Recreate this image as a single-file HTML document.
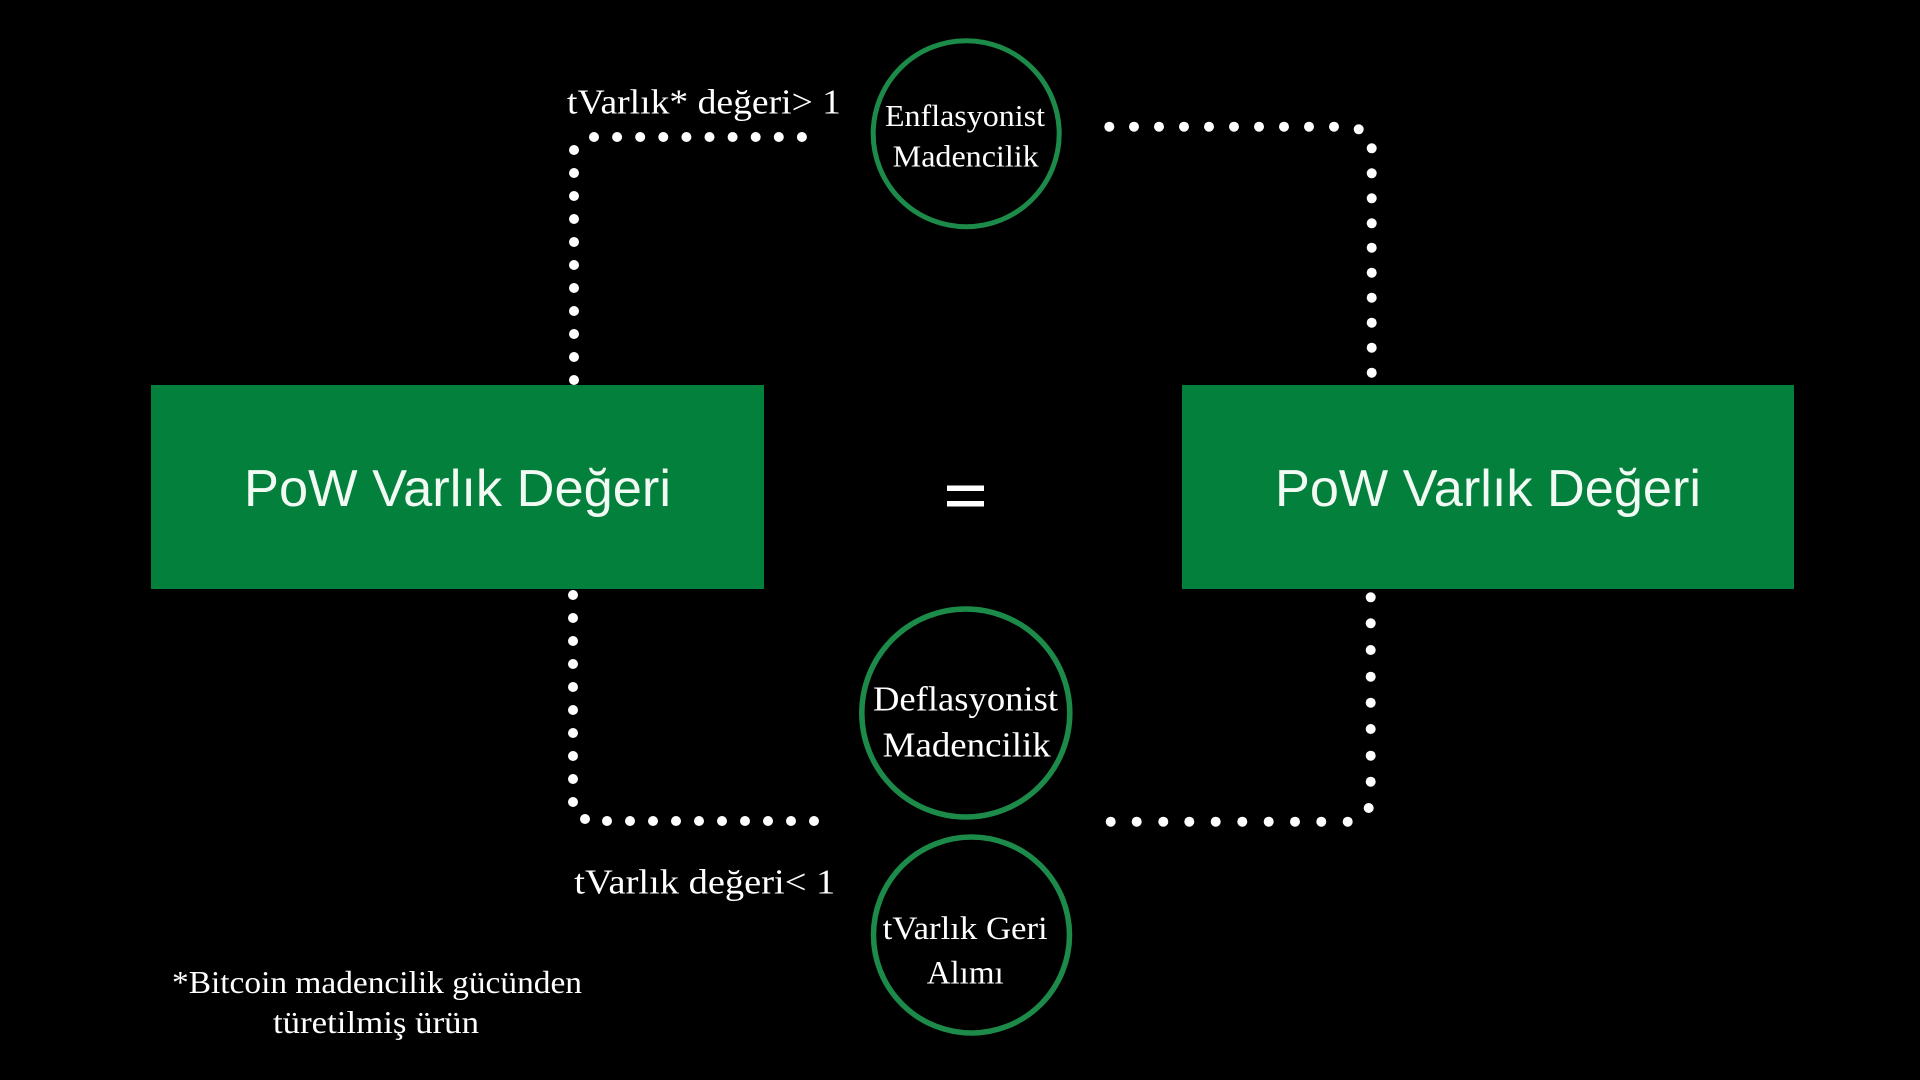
<!DOCTYPE html>
<html>
<head>
<meta charset="utf-8">
<style>
  html, body { margin: 0; padding: 0; background: #000; }
  body { width: 1920px; height: 1080px; overflow: hidden; }
  svg { display: block; }
  .serif { font-family: "Liberation Serif", "DejaVu Serif", serif; fill: #ffffff; }
  .sans { font-family: "Liberation Sans", "DejaVu Sans", sans-serif; fill: #f2faf4; }
</style>
</head>
<body>
<svg width="1920" height="1080" viewBox="0 0 1920 1080" xmlns="http://www.w3.org/2000/svg">
  <rect x="0" y="0" width="1920" height="1080" fill="#000"/>

  <!-- Green boxes -->
  <rect x="151" y="385" width="613" height="204" fill="#03803b"/>
  <rect x="1182" y="385" width="612" height="204" fill="#03803b"/>
  <text class="sans" x="457.5" y="506" font-size="52" text-anchor="middle" textLength="427" lengthAdjust="spacingAndGlyphs">PoW Varlık Değeri</text>
  <text class="sans" x="1488" y="506" font-size="52" text-anchor="middle" textLength="426" lengthAdjust="spacingAndGlyphs">PoW Varlık Değeri</text>

  <!-- Equals sign -->
  <rect x="947" y="485.5" width="37" height="5.5" fill="#fff"/>
  <rect x="947" y="501" width="37" height="5.5" fill="#fff"/>

  <!-- Circles -->
  <circle cx="966.2" cy="133.7" r="93" fill="none" stroke="#1c8a48" stroke-width="5"/>
  <circle cx="965.8" cy="713" r="104" fill="none" stroke="#1c8a48" stroke-width="5.5"/>
  <circle cx="971.5" cy="935" r="98" fill="none" stroke="#1c8a48" stroke-width="5.5"/>

  <!-- Circle texts -->
  <text class="serif" x="885" y="126" font-size="31" textLength="160" lengthAdjust="spacingAndGlyphs">Enflasyonist</text>
  <text class="serif" x="892.7" y="166.5" font-size="31" textLength="146" lengthAdjust="spacingAndGlyphs">Madencilik</text>

  <text class="serif" x="873" y="710.7" font-size="35" textLength="185" lengthAdjust="spacingAndGlyphs">Deflasyonist</text>
  <text class="serif" x="882.7" y="756.7" font-size="35" textLength="168" lengthAdjust="spacingAndGlyphs">Madencilik</text>

  <text class="serif" x="882.7" y="939" font-size="33" textLength="165" lengthAdjust="spacingAndGlyphs">tVarlık Geri</text>
  <text class="serif" x="926.7" y="983.3" font-size="33" textLength="77" lengthAdjust="spacingAndGlyphs">Alımı</text>

  <!-- Labels -->
  <text class="serif" x="567" y="113.5" font-size="35" textLength="274" lengthAdjust="spacingAndGlyphs">tVarlık* değeri&gt; 1</text>
  <text class="serif" x="574.3" y="893.3" font-size="35" textLength="261" lengthAdjust="spacingAndGlyphs">tVarlık değeri&lt; 1</text>

  <!-- Footnote -->
  <text class="serif" x="172" y="993" font-size="32" textLength="410" lengthAdjust="spacingAndGlyphs">*Bitcoin madencilik gücünden</text>
  <text class="serif" x="273" y="1033" font-size="32" textLength="206" lengthAdjust="spacingAndGlyphs">türetilmiş ürün</text>

  <!-- Dotted connectors -->
  <g fill="#ffffff">
    <!-- top-left row -->
    <circle cx="594" cy="137" r="5"/>
    <circle cx="617.1" cy="137" r="5"/>
    <circle cx="640.2" cy="137" r="5"/>
    <circle cx="663.3" cy="137" r="5"/>
    <circle cx="686.4" cy="137" r="5"/>
    <circle cx="709.5" cy="137" r="5"/>
    <circle cx="732.6" cy="137" r="5"/>
    <circle cx="755.7" cy="137" r="5"/>
    <circle cx="778.8" cy="137" r="5"/>
    <circle cx="801.9" cy="137" r="5"/>
    <!-- top-left vertical -->
    <circle cx="574" cy="150" r="5"/>
    <circle cx="574" cy="173" r="5"/>
    <circle cx="574" cy="196" r="5"/>
    <circle cx="574" cy="219" r="5"/>
    <circle cx="574" cy="242" r="5"/>
    <circle cx="574" cy="265" r="5"/>
    <circle cx="574" cy="288" r="5"/>
    <circle cx="574" cy="311" r="5"/>
    <circle cx="574" cy="334" r="5"/>
    <circle cx="574" cy="357" r="5"/>
    <circle cx="574" cy="380" r="5"/>

    <!-- top-right row -->
    <circle cx="1109.3" cy="126.7" r="5"/>
    <circle cx="1134" cy="126.7" r="5"/>
    <circle cx="1159" cy="126.7" r="5"/>
    <circle cx="1184" cy="126.7" r="5"/>
    <circle cx="1209" cy="126.7" r="5"/>
    <circle cx="1234" cy="126.7" r="5"/>
    <circle cx="1259" cy="126.7" r="5"/>
    <circle cx="1284" cy="126.7" r="5"/>
    <circle cx="1309" cy="126.7" r="5"/>
    <circle cx="1334" cy="126.7" r="5"/>
    <circle cx="1358.7" cy="129.3" r="5"/>
    <!-- top-right vertical -->
    <circle cx="1371.7" cy="148.3" r="5"/>
    <circle cx="1371.7" cy="173.3" r="5"/>
    <circle cx="1371.7" cy="198.3" r="5"/>
    <circle cx="1371.7" cy="223.3" r="5"/>
    <circle cx="1371.7" cy="247.7" r="5"/>
    <circle cx="1371.7" cy="272.7" r="5"/>
    <circle cx="1371.7" cy="297.7" r="5"/>
    <circle cx="1371.7" cy="322.7" r="5"/>
    <circle cx="1371.7" cy="347.7" r="5"/>
    <circle cx="1371.7" cy="372.7" r="5"/>

    <!-- bottom-left vertical -->
    <circle cx="573" cy="595" r="5"/>
    <circle cx="573" cy="618" r="5"/>
    <circle cx="573" cy="641" r="5"/>
    <circle cx="573" cy="664" r="5"/>
    <circle cx="573" cy="687" r="5"/>
    <circle cx="573" cy="710" r="5"/>
    <circle cx="573" cy="733" r="5"/>
    <circle cx="573" cy="756" r="5"/>
    <circle cx="573" cy="779" r="5"/>
    <circle cx="573" cy="802" r="5"/>
    <circle cx="585" cy="819" r="5"/>
    <!-- bottom-left row -->
    <circle cx="607" cy="821" r="5"/>
    <circle cx="630" cy="821" r="5"/>
    <circle cx="653" cy="821" r="5"/>
    <circle cx="676" cy="821" r="5"/>
    <circle cx="699" cy="821" r="5"/>
    <circle cx="722" cy="821" r="5"/>
    <circle cx="745" cy="821" r="5"/>
    <circle cx="768" cy="821" r="5"/>
    <circle cx="791" cy="821" r="5"/>
    <circle cx="814" cy="821" r="5"/>

    <!-- bottom-right vertical -->
    <circle cx="1370.7" cy="597.3" r="5"/>
    <circle cx="1370.7" cy="623.3" r="5"/>
    <circle cx="1370.7" cy="650" r="5"/>
    <circle cx="1370.7" cy="676.7" r="5"/>
    <circle cx="1370.7" cy="702.7" r="5"/>
    <circle cx="1370.7" cy="729" r="5"/>
    <circle cx="1370.7" cy="755.7" r="5"/>
    <circle cx="1370.7" cy="781.7" r="5"/>
    <circle cx="1368.7" cy="808" r="5"/>
    <!-- bottom-right row -->
    <circle cx="1110.7" cy="821.7" r="5"/>
    <circle cx="1136.7" cy="821.7" r="5"/>
    <circle cx="1163.3" cy="821.7" r="5"/>
    <circle cx="1189.3" cy="821.7" r="5"/>
    <circle cx="1215.7" cy="821.7" r="5"/>
    <circle cx="1242.3" cy="821.7" r="5"/>
    <circle cx="1268.7" cy="821.7" r="5"/>
    <circle cx="1295" cy="821.7" r="5"/>
    <circle cx="1321.3" cy="821.7" r="5"/>
    <circle cx="1347.7" cy="821.7" r="5"/>
  </g>
</svg>
</body>
</html>
